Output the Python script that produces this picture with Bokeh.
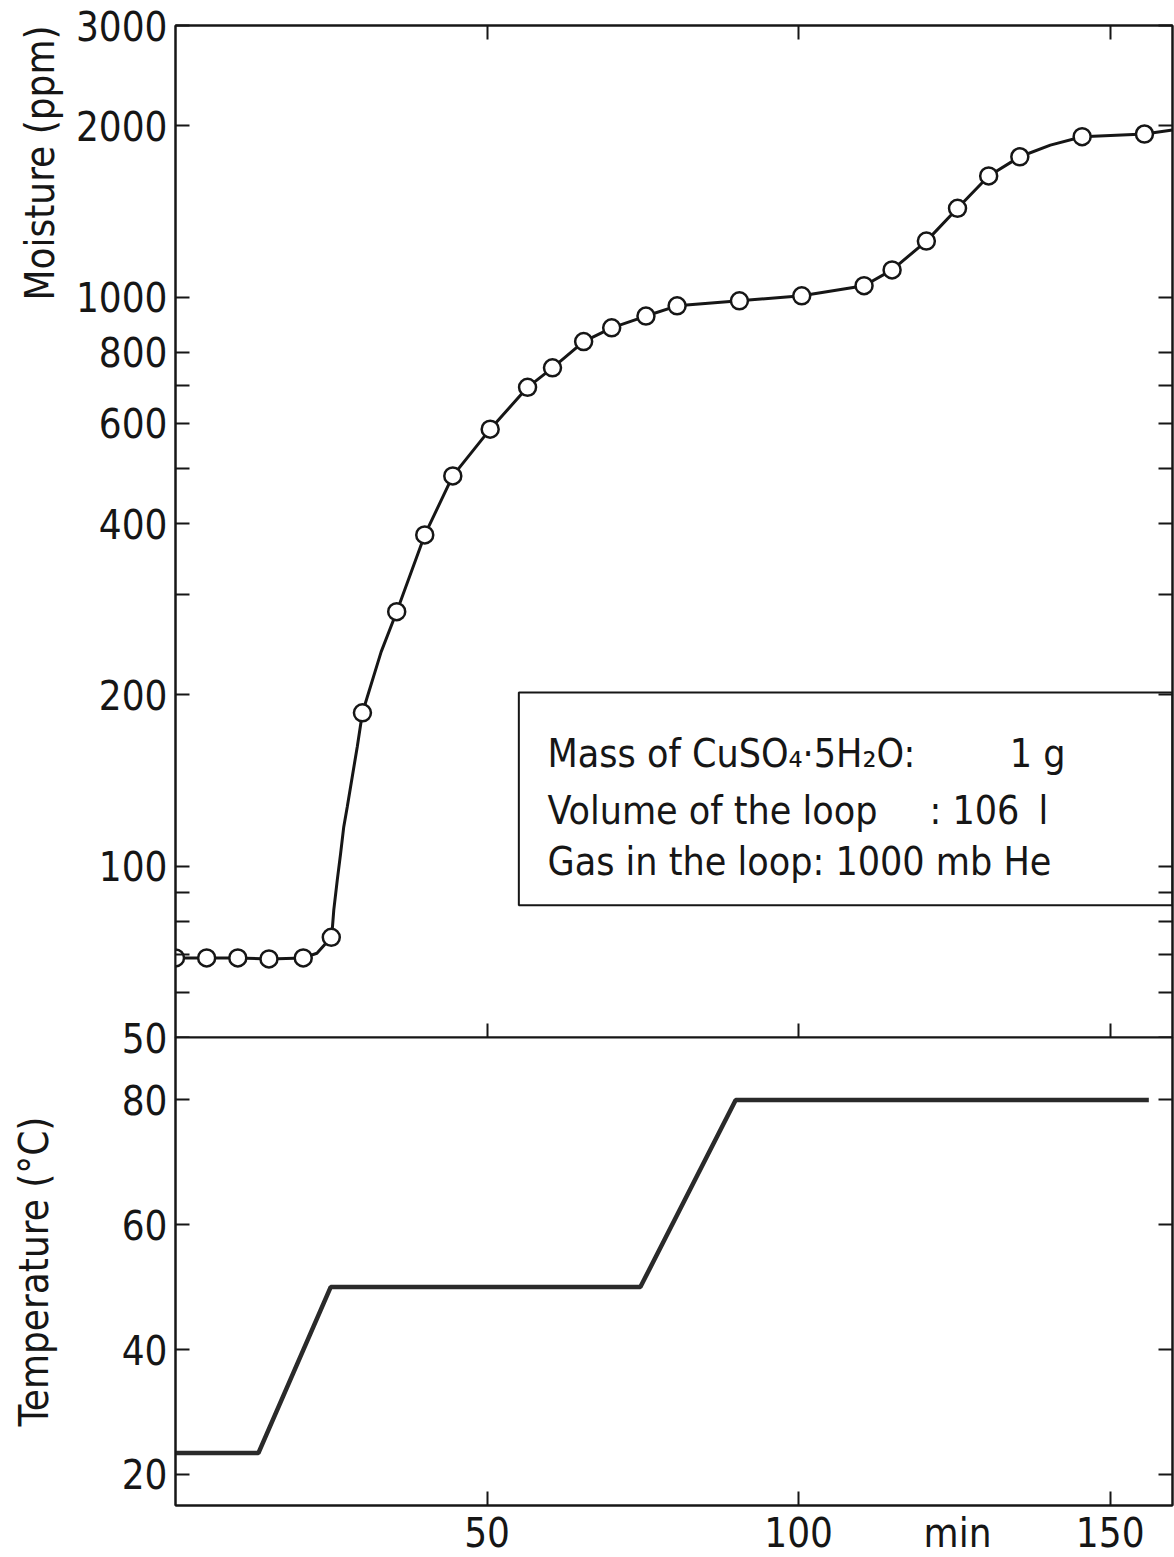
from bokeh.plotting import figure
from bokeh.models import (LogAxis, LinearAxis, FixedTicker, Range1d, Label,
                          BoxAnnotation, NumeralTickFormatter, Title)
from bokeh.layouts import column
from bokeh.embed import file_html
from bokeh.resources import INLINE

# ---------------- data ----------------
sample_time = [0, 5, 10, 15, 20.5, 25, 30, 35.5, 40, 44.5, 50.5, 56.5, 60.5,
               65.5, 70, 75.5, 80.5, 90.5, 100.5, 110.5, 115, 120.5, 125.5,
               130.5, 135.5, 145.5, 155.5]
moisture_ppm = [69, 69, 69, 68.7, 69, 75, 186, 280, 382, 485, 586, 694, 751,
                835, 883, 926, 965, 985, 1005, 1047, 1116, 1254, 1432,
                1632, 1764, 1913, 1934]

curve_time = [0, 5, 10, 15, 20.5, 22.7, 25, 25.15, 25.4, 25.96, 26.5, 27.0,
              27.56, 28.36, 29.17, 30, 33, 35.5, 40, 44.5, 50.5, 56.5, 60.5,
              65.5, 70, 75.5, 80.5, 90.5, 100.5, 110.5, 115, 120.5, 125.5,
              130.5, 135.5, 140.4, 145.5, 155.5, 160]
curve_ppm = [69, 69, 69, 68.7, 69, 70.3, 75, 77.2, 83.7, 94.5, 105.3, 117.2,
             127.1, 143.5, 162.1, 186, 238, 280, 382, 485, 586, 694, 751,
             835, 883, 926, 965, 985, 1005, 1047, 1116, 1254, 1432,
             1632, 1764, 1849, 1913, 1934, 1966]

temp_time = [0, 13.3, 24.9, 74.6, 89.9, 156.2]
temp_c = [23.4, 23.4, 50, 50, 80, 80]

time_ticks = [50, 100, 150]
time_labels = {50: "50", 100: "100", 125.5: "min", 150: "150"}
moist_ticks = [50, 100, 200, 400, 600, 800, 1000, 2000, 3000]
moist_minor = [60, 70, 80, 90, 300, 500, 700]
temp_ticks = [20, 40, 60, 80]

# ---------------- style constants ----------------
FONT = "'DejaVu Sans Condensed', 'Liberation Sans Narrow', sans-serif"
INK = "#161616"
TICK_FS = "40px"
OVERLAP = 32


def style(ax, labels=True):
    ax.axis_line_color = INK
    ax.axis_line_width = 2
    ax.major_tick_in = 14
    ax.major_tick_out = 0
    ax.minor_tick_in = 14
    ax.minor_tick_out = 0
    ax.major_tick_line_color = INK
    ax.minor_tick_line_color = INK
    ax.major_tick_line_width = 2
    ax.minor_tick_line_width = 2
    if labels:
        ax.major_label_text_font = FONT
        ax.major_label_text_font_size = TICK_FS
        ax.major_label_text_color = INK
        ax.major_label_standoff = 8
    else:
        ax.major_label_text_font_size = "0px"
        ax.major_label_standoff = 0
    return ax


def base(p):
    p.grid.visible = False
    p.outline_line_color = INK
    p.outline_line_width = 2
    p.background_fill_color = "white"


# ---------------- upper panel: moisture (log) ----------------
top = figure(frame_width=997, frame_height=1012,
             x_range=Range1d(0, 160), y_range=Range1d(50, 3000),
             y_axis_type="log", x_axis_location=None, y_axis_location=None,
             output_backend="svg", toolbar_location=None,
             min_border_left=175, min_border_right=2,
             min_border_top=25, min_border_bottom=OVERLAP)
base(top)
top.border_fill_color = "white"

ml = style(LogAxis(ticker=FixedTicker(ticks=moist_ticks, minor_ticks=moist_minor),
                   formatter=NumeralTickFormatter(format="0")))
top.add_layout(ml, "left")
top.add_layout(style(LogAxis(ticker=FixedTicker(ticks=moist_ticks,
                                                minor_ticks=moist_minor)),
                     labels=False), "right")
top.add_layout(style(LinearAxis(ticker=FixedTicker(ticks=time_ticks)),
                     labels=False), "above")
top.add_layout(style(LinearAxis(ticker=FixedTicker(ticks=time_ticks)),
                     labels=False), "below")
top.add_layout(Title(text="Moisture (ppm)", align="right", standoff=20,
                     text_font=FONT, text_font_size="40px",
                     text_font_style="normal", text_color=INK), "left")

top.line(curve_time, curve_ppm, line_color=INK, line_width=3)
top.scatter(sample_time, moisture_ppm, marker="circle", size=17,
            fill_color="white", line_color=INK, line_width=2.5)

top.add_layout(BoxAnnotation(left=55.1, right=160, top=202, bottom=85.4,
                             fill_alpha=0, line_color=INK, line_alpha=1,
                             line_width=2))
box_txt = [(59.7, 158.0, "Mass of CuSO\u2084\u00b75H\u2082O:"),
           (133.9, 158.0, "1 g"),
           (59.7, 125.5, "Volume of the loop"),
           (121.0, 125.5, ": 106"),
           (138.5, 125.5, "l"),
           (59.7, 102.0, "Gas in the loop: 1000 mb He")]
for x, y, t in box_txt:
    top.add_layout(Label(x=x, y=y, text=t, text_font=FONT,
                         text_font_size="39px", text_color=INK,
                         text_baseline="alphabetic", text_align="left"))

# ---------------- lower panel: temperature ----------------
bot = figure(frame_width=997, frame_height=468,
             x_range=Range1d(0, 160), y_range=Range1d(15, 90),
             x_axis_location=None, y_axis_location=None,
             output_backend="svg", toolbar_location=None,
             min_border_left=175, min_border_right=2,
             min_border_top=0, min_border_bottom=52,
             margin=(-OVERLAP, 0, 0, 0))
base(bot)
bot.border_fill_color = None

tl = style(LinearAxis(ticker=FixedTicker(ticks=temp_ticks),
                      formatter=NumeralTickFormatter(format="0"),
                      axis_label="Temperature (\u00b0C)"))
tl.axis_label_text_font = FONT
tl.axis_label_text_font_size = "40px"
tl.axis_label_text_font_style = "normal"
tl.axis_label_text_color = INK
tl.axis_label_standoff = 62
bot.add_layout(tl, "left")
bot.add_layout(style(LinearAxis(ticker=FixedTicker(ticks=temp_ticks)),
                     labels=False), "right")
# time axis: labels (incl. unit) on major ticks, tick marks via minor ticks
xb = style(LinearAxis(ticker=FixedTicker(ticks=list(time_labels),
                                         minor_ticks=time_ticks),
                      major_label_overrides=time_labels))
xb.major_tick_in = 0
xb.major_label_standoff = 4
bot.add_layout(xb, "below")

bot.line(temp_time, temp_c, line_color="#2a2a2a", line_width=4.5)

layout = column(top, bot, spacing=0)
open("out.html", "w").write(file_html(layout, INLINE))
